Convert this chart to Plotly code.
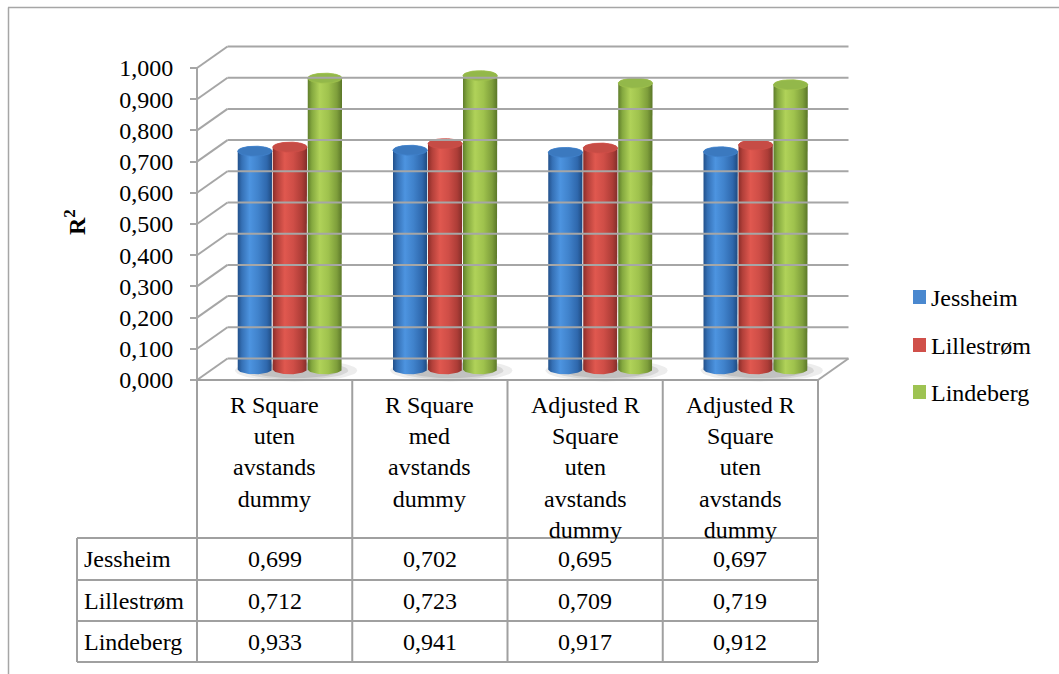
import numpy as np
import plotly.graph_objects as go

# ---- data ----
categories = [
    "R Square<br>uten<br>avstands<br>dummy",
    "R Square<br>med<br>avstands<br>dummy",
    "Adjusted R<br>Square<br>uten<br>avstands<br>dummy",
    "Adjusted R<br>Square<br>uten<br>avstands<br>dummy",
]
series_names = ["Jessheim", "Lillestrøm", "Lindeberg"]
jessheim = [0.699, 0.702, 0.695, 0.697]
lillestrom = [0.712, 0.723, 0.709, 0.719]
lindeberg = [0.933, 0.941, 0.917, 0.912]
series_values = [jessheim, lillestrom, lindeberg]
y_ticks = [i / 10 for i in range(11)]
y_ticktext = [f"{v:.3f}".replace(".", ",") for v in y_ticks]

# ---- geometry (figure pixels) ----
W, H = 1059, 674
X0, XS = 197.0, 155.25      # x pixel of category 0, pixels per category
Y0, YS = 380.0, 312.0       # y pixel of value 0, pixels per unit value
DX = 30.5 / XS              # depth offset of back wall (x units)
DY = 21.5 / YS              # depth offset of back wall (value units)
BAR_W = 35.0 / XS
RY = 5.0 / YS
FONT = "Liberation Serif"
GRID = "#a6a6a6"


def paper_x(px):
    return px / W


def paper_y(py):
    return 1 - py / H


gradients = [
    [[0, "#22508a"], [0.12, "#3570b5"], [0.35, "#4d94e0"], [0.6, "#4082cb"],
     [0.85, "#2f68ad"], [1, "#1f4a7f"]],
    [[0, "#8a2d29"], [0.12, "#b2403a"], [0.35, "#e0584f"], [0.6, "#cf4e47"],
     [0.85, "#ad3d37"], [1, "#822e2a"]],
    [[0, "#5f7d2b"], [0.12, "#84a83f"], [0.35, "#b0d259"], [0.6, "#9fc24d"],
     [0.85, "#7e9e3b"], [1, "#5a7628"]],
]
top_colors = ["#3b79bf", "#c64c45", "#93b84a"]
legend_colors = ["#4a88cf", "#d0504a", "#9ec352"]

fig = go.Figure()
shapes = []
annotations = []

# ---- 3D frame: back wall, side wall, floor ----
for v in y_ticks:
    shapes.append(dict(type="line", xref="x", yref="y", x0=DX, y0=v + DY,
                       x1=4 + DX, y1=v + DY, line=dict(color=GRID, width=2)))
    shapes.append(dict(type="line", xref="x", yref="y", x0=0, y0=v,
                       x1=DX, y1=v + DY, line=dict(color=GRID, width=2)))
shapes.append(dict(type="line", xref="x", yref="y", x0=0, y0=0, x1=0, y1=1,
                   line=dict(color=GRID, width=2)))
shapes.append(dict(type="line", xref="x", yref="y", x0=4, y0=0, x1=4 + DX,
                   y1=DY, line=dict(color=GRID, width=2)))

# ---- shadows on the floor ----
t = np.linspace(0, 2 * np.pi, 60)
for k in range(4):
    cx = k + 0.5 + DX / 2 + 0.04
    cy = DY / 2 - 0.004
    for scale, op in [(1.0, 0.07), (0.85, 0.09), (0.7, 0.10)]:
        rx = 1.75 * BAR_W * scale
        ry = 0.035 * scale
        fig.add_trace(go.Scatter(
            x=cx + rx * np.cos(t), y=cy + ry * np.sin(t), mode="lines",
            fill="toself", fillcolor=f"rgba(0,0,0,{op})",
            line=dict(width=0), hoverinfo="skip", showlegend=False))

# ---- cylinders ----
upper = np.linspace(np.pi, 0, 40)
lower = np.linspace(0, -np.pi, 40)
full = np.linspace(0, 2 * np.pi, 80)
for k in range(4):
    for i, vals in enumerate(series_values):
        v = vals[k]
        cx = k + 0.5 + DX / 2 + (i - 1) * BAR_W
        rx = BAR_W / 2 * 0.98
        base = DY / 2
        top = base + v
        xs = np.concatenate([cx + rx * np.cos(upper), cx + rx * np.cos(lower)])
        ys = np.concatenate([top + RY * np.sin(upper), base + RY * np.sin(lower)])
        fig.add_trace(go.Scatter(
            x=np.append(xs, xs[0]), y=np.append(ys, ys[0]), mode="lines",
            fill="toself",
            fillgradient=dict(type="horizontal", colorscale=gradients[i]),
            line=dict(width=0), name=series_names[i], showlegend=False,
            hovertemplate=f"{series_names[i]}: {v:.3f}<extra></extra>"))
        fig.add_trace(go.Scatter(
            x=cx + rx * np.cos(full), y=top + RY * np.sin(full), mode="lines",
            fill="toself", fillcolor=top_colors[i],
            line=dict(width=0.8, color=gradients[i][3][1]),
            hoverinfo="skip", showlegend=False))

# ---- data table ----
tbl_top, hdr_bot = 380, 538
row_lines = [580, 621, 662]
tbl_left = 77
col_px = [X0 + XS * k for k in range(5)]
line_style = dict(color="#a0a0a0", width=2)
for xp in col_px:
    shapes.append(dict(type="line", xref="paper", yref="paper",
                       x0=paper_x(xp), x1=paper_x(xp),
                       y0=paper_y(tbl_top), y1=paper_y(row_lines[-1]),
                       line=line_style))
shapes.append(dict(type="line", xref="paper", yref="paper",
                   x0=paper_x(tbl_left), x1=paper_x(tbl_left),
                   y0=paper_y(hdr_bot), y1=paper_y(row_lines[-1]), line=line_style))
for yp in [hdr_bot] + row_lines:
    shapes.append(dict(type="line", xref="paper", yref="paper",
                       x0=paper_x(tbl_left), x1=paper_x(col_px[-1]),
                       y0=paper_y(yp), y1=paper_y(yp), line=line_style))
shapes.append(dict(type="line", xref="paper", yref="paper",
                   x0=paper_x(X0), x1=paper_x(col_px[-1]),
                   y0=paper_y(tbl_top), y1=paper_y(tbl_top), line=line_style))

for k, cat in enumerate(categories):
    annotations.append(dict(
        xref="paper", yref="paper", x=paper_x(X0 + XS * (k + 0.5)),
        y=paper_y(390), xanchor="center", yanchor="top", text=cat,
        showarrow=False, align="center", font=dict(family=FONT, size=24, color="black")))

row_centres = [559, 600.5, 641.5]
for r, (name, vals) in enumerate(zip(series_names, series_values)):
    annotations.append(dict(
        xref="paper", yref="paper", x=paper_x(82), y=paper_y(row_centres[r]),
        xanchor="left", yanchor="middle", text=name, showarrow=False,
        font=dict(family=FONT, size=24, color="black")))
    for k, v in enumerate(vals):
        annotations.append(dict(
            xref="paper", yref="paper", x=paper_x(X0 + XS * (k + 0.5)),
            y=paper_y(row_centres[r]), xanchor="center", yanchor="middle",
            text=f"{v:.3f}".replace(".", ","), showarrow=False,
            font=dict(family=FONT, size=24, color="black")))

# ---- legend ----
legend_rows = [297, 345, 392]
for name, col, yc in zip(series_names, legend_colors, legend_rows):
    shapes.append(dict(type="rect", xref="paper", yref="paper",
                       x0=paper_x(913), x1=paper_x(926),
                       y0=paper_y(yc - 7), y1=paper_y(yc + 7),
                       fillcolor=col, line=dict(width=0)))
    annotations.append(dict(
        xref="paper", yref="paper", x=paper_x(929), y=paper_y(yc + 1),
        xanchor="left", yanchor="middle", text=name, showarrow=False,
        font=dict(family=FONT, size=24, color="black")))

# ---- axis title ----
annotations.append(dict(
    xref="paper", yref="paper", x=paper_x(75), y=paper_y(222),
    xanchor="center", yanchor="middle", text="<b>R<sup>2</sup></b>",
    textangle=-90, showarrow=False, font=dict(family=FONT, size=24, color="black")))

# ---- chart border ----
shapes.append(dict(type="line", xref="paper", yref="paper", x0=paper_x(8),
                   x1=1, y0=paper_y(7.5), y1=paper_y(7.5),
                   line=dict(color="#a6a6a6", width=1.5)))
shapes.append(dict(type="line", xref="paper", yref="paper", x0=paper_x(8.5),
                   x1=paper_x(8.5), y0=paper_y(7.5), y1=0,
                   line=dict(color="#a6a6a6", width=1.5)))

fig.update_layout(
    width=W, height=H, margin=dict(l=0, r=0, t=0, b=0),
    paper_bgcolor="white", plot_bgcolor="white", showlegend=False,
    font=dict(family=FONT),
    shapes=shapes, annotations=annotations,
    xaxis=dict(visible=False, range=[-X0 / XS, (W - X0) / XS], domain=[0, 1],
               fixedrange=True),
    yaxis=dict(range=[(Y0 - H) / YS, Y0 / YS], domain=[0, 1], anchor="free",
               position=X0 / W, tickvals=y_ticks, ticktext=y_ticktext,
               ticks="outside", ticklen=7, tickcolor=GRID, tickwidth=2,
               showgrid=False, zeroline=False, showline=False,
               ticklabelstandoff=12,
               tickfont=dict(family=FONT, size=24, color="black"), fixedrange=True),
)

fig.write_html("out.html")
